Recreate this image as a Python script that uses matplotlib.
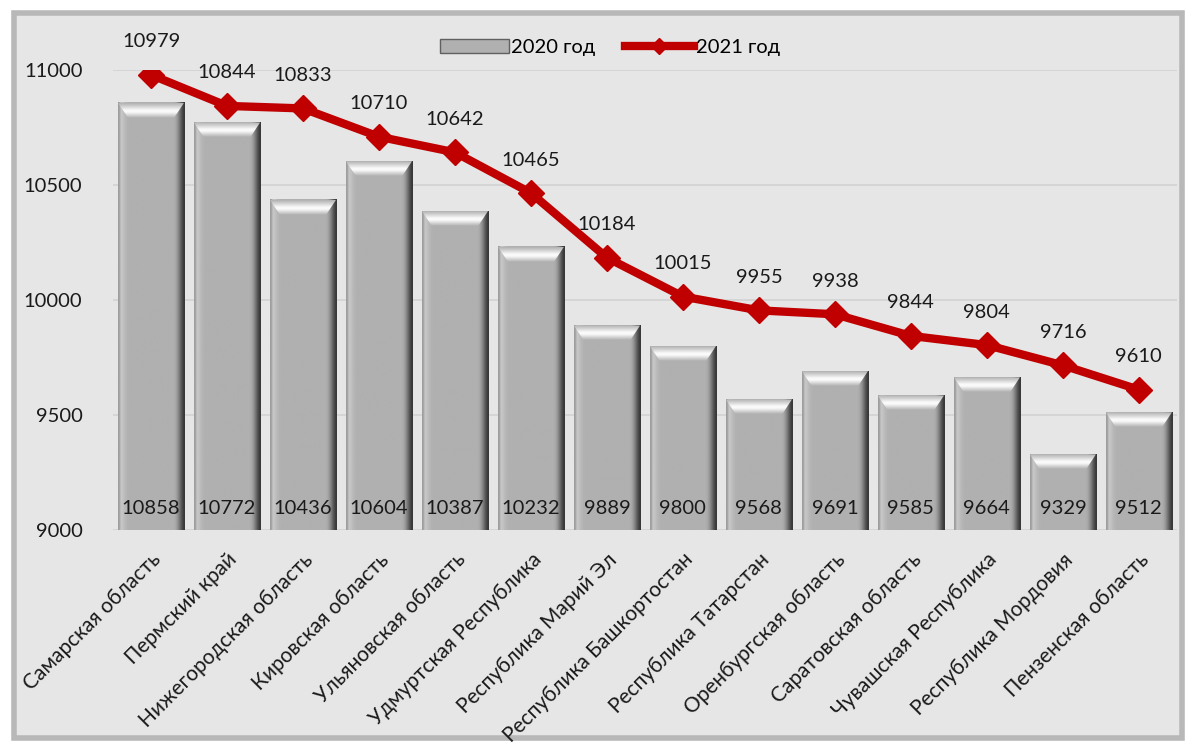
import numpy as np
import matplotlib.pyplot as plt
from matplotlib.patches import Polygon, FancyBboxPatch
from matplotlib.lines import Line2D
from matplotlib.patches import Patch

plt.rcParams['font.family'] = ['Lato', 'DejaVu Sans']

regions = ["Самарская область", "Пермский край", "Нижегородская область",
           "Кировская область", "Ульяновская область", "Удмуртская Республика",
           "Республика Марий Эл", "Республика Башкортостан", "Республика Татарстан",
           "Оренбургская область", "Саратовская область", "Чувашская Республика",
           "Республика Мордовия", "Пензенская область"]
y2020 = [10858, 10772, 10436, 10604, 10387, 10232, 9889, 9800, 9568, 9691,
         9585, 9664, 9329, 9512]
y2021 = [10979, 10844, 10833, 10710, 10642, 10465, 10184, 10015, 9955, 9938,
         9844, 9804, 9716, 9610]

fig = plt.figure(figsize=(11.96, 7.49), dpi=100, facecolor='white')
# chart frame
frame = FancyBboxPatch((0.012, 0.015), 0.976, 0.968, boxstyle='square,pad=0',
                       transform=fig.transFigure, facecolor='#e6e6e6',
                       edgecolor='#b8b8b8', linewidth=4, zorder=-5)
fig.patches.append(frame)

ax = fig.add_axes([0.0945, 0.2924, 0.8895, 0.6141])
ax.set_facecolor('none')
ax.set_yticks([9000, 9500, 10000, 10500, 11000])
for s in ax.spines.values():
    s.set_visible(False)
ax.grid(axis='y', color='#d2d2d2', linewidth=1.2, zorder=0)
ax.set_axisbelow(True)
ax.tick_params(length=0, labelsize=14.5, colors='#1a1a1a')
ax.tick_params(axis='y', pad=22)

x = np.arange(len(regions))
w = 0.87
dx, dy = 0.13, 65
# horizontal shading of the bar body
body = np.array([[0.62, 0.78, 0.76, 0.72, 0.70] + [0.69] * 22 +
                 [0.66, 0.58, 0.45, 0.32, 0.22]])
top = np.concatenate([np.linspace(0.70, 0.98, 10), [0.98, 0.98],
                      np.linspace(0.98, 0.70, 12)])[:, None].repeat(2, axis=1)
for xi, h in zip(x, y2020):
    x0, x1 = xi - w / 2, xi + w / 2
    ax.imshow(body, cmap='gray', vmin=0, vmax=1, aspect='auto',
              extent=[x0, x1, 9000, h], interpolation='bilinear', zorder=2)
    tp = Polygon([[x0, h], [x1, h], [x1 - dx, h - dy], [x0 + dx, h - dy]],
                 closed=True, facecolor='none', edgecolor='none', zorder=3)
    ax.add_patch(tp)
    im = ax.imshow(top[::-1], cmap='gray', vmin=0, vmax=1, aspect='auto',
                   extent=[x0, x1, h - dy, h], interpolation='bilinear', zorder=3)
    im.set_clip_path(tp)
    ax.text(xi, 9095, str(h), ha='center', va='center', fontsize=14.5,
            color='#1a1a1a', zorder=5)

ax.plot(x, y2021, color='#c00000', linewidth=6, marker='D', markersize=13,
        zorder=6, solid_joinstyle='round')
for xi, v in zip(x, y2021):
    ax.annotate(str(v), (xi, v), xytext=(0, 33), textcoords='offset pixels',
                ha='center', va='center', fontsize=14.5, color='#1a1a1a',
                annotation_clip=False)

ax.set_xlim(-0.5, len(regions) - 0.5)
ax.set_ylim(9000, 11000)
ax.set_xticks(x)
ax.set_xticklabels(regions, rotation=45, ha='right', rotation_mode='anchor',
                   fontsize=15)
ax.tick_params(axis='x', pad=14)

handles = [Patch(facecolor='#b0b0b0', edgecolor='#606060', label='2020 год'),
           Line2D([0], [0], color='#c00000', linewidth=6, marker='D',
                  markersize=8, label='2021 год')]
fig.legend(handles=handles, loc='center', bbox_to_anchor=(0.51, 0.937), ncol=2,
           frameon=False, fontsize=14.5, handlelength=3.4, handletextpad=0.1,
           columnspacing=1.5)

fig.savefig('out.png', dpi=100, facecolor='white')
